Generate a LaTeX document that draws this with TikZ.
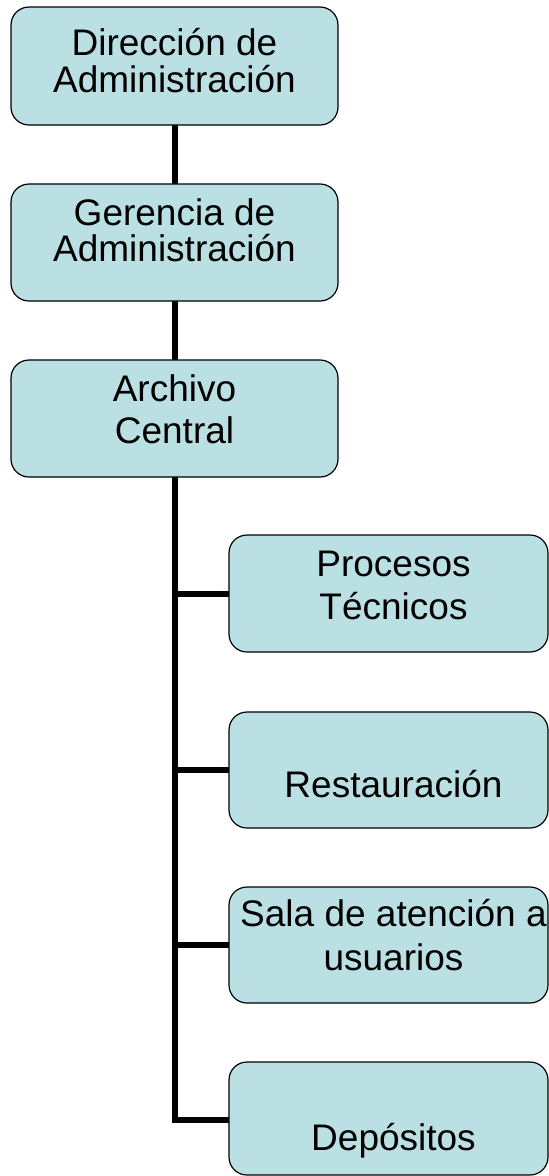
\documentclass[tikz,border=0pt]{standalone}
\usepackage{fontspec}
\setmainfont{Liberation Sans}
\definecolor{boxfill}{RGB}{187,224,227}
\newcommand\orgtext[2]{\parbox[t]{360pt}{\fontsize{37}{#1}\selectfont\centering #2}}
\begin{document}
\begin{tikzpicture}[x=1pt,y=-1pt,
  orgbox/.style={draw=black, line width=1.2pt, fill=boxfill, rounded corners=18pt,
    inner sep=0pt, outer sep=0pt, rectangle},
  topbox/.style={orgbox, minimum width=327pt},
  subbox/.style={orgbox, minimum width=319pt},
  conn/.style={line width=6pt, black},
  txt/.style={anchor=base, inner sep=0pt, outer sep=0pt, text=black}]
\useasboundingbox (0,0) rectangle (549,1176);
% boxes (drawn as named coordinates first for connectors)
\path (174.5,66)  node[topbox, minimum height=118pt, draw=none, fill=none] (a) {};
\path (174.5,242.5) node[topbox, minimum height=117pt, draw=none, fill=none] (b) {};
\path (174.5,418.5) node[topbox, minimum height=117pt, draw=none, fill=none] (c) {};
\path (388.5,593.5) node[subbox, minimum height=117pt, draw=none, fill=none] (p) {};
\path (388.5,770)   node[subbox, minimum height=116pt, draw=none, fill=none] (r) {};
\path (388.5,945)   node[subbox, minimum height=116pt, draw=none, fill=none] (s) {};
\path (388.5,1120)  node[subbox, minimum height=117pt, draw=none, fill=none] (d) {};
% connectors
\draw[conn] (a.south) -- (b.north);
\draw[conn] (b.south) -- (c.north);
\draw[conn] (c.south) -- (c.south |- d.west) -- (d.west);
\draw[conn] (c.south |- p.west) -- (p.west);
\draw[conn] (c.south |- r.west) -- (r.west);
\draw[conn] (c.south |- s.west) -- (s.west);
% visible boxes
\node[topbox, minimum height=118pt] (A) at (a) {};
\node[topbox, minimum height=117pt] (B) at (b) {};
\node[topbox, minimum height=117pt] (C) at (c) {};
\node[subbox, minimum height=117pt] (P) at (p) {};
\node[subbox, minimum height=116pt] (R) at (r) {};
\node[subbox, minimum height=116pt] (S) at (s) {};
\node[subbox, minimum height=113pt] (D) at (388.5,1118.5) {};
% texts
\node[txt] (At) at (174.5,55)    {\orgtext{37.7}{Dirección de\\Administración}};
\node[txt] (Bt) at (174.5,225)   {\orgtext{36.7}{Gerencia de\\Administración}};
\node[txt] (Ct) at (174.5,401.7) {\orgtext{41.6}{Archivo\\Central}};
\node[txt] (Pt) at (393.5,576.7) {\orgtext{43}{Procesos\\Técnicos}};
\node[txt] (Rt) at (393.5,797)   {\orgtext{43}{Restauración}};
\node[txt] (St) at (393.5,926)   {\orgtext{44}{Sala de atención a\\usuarios}};
\node[txt] (Dt) at (393.5,1150)  {\orgtext{43}{Depósitos}};
\end{tikzpicture}
\end{document}
